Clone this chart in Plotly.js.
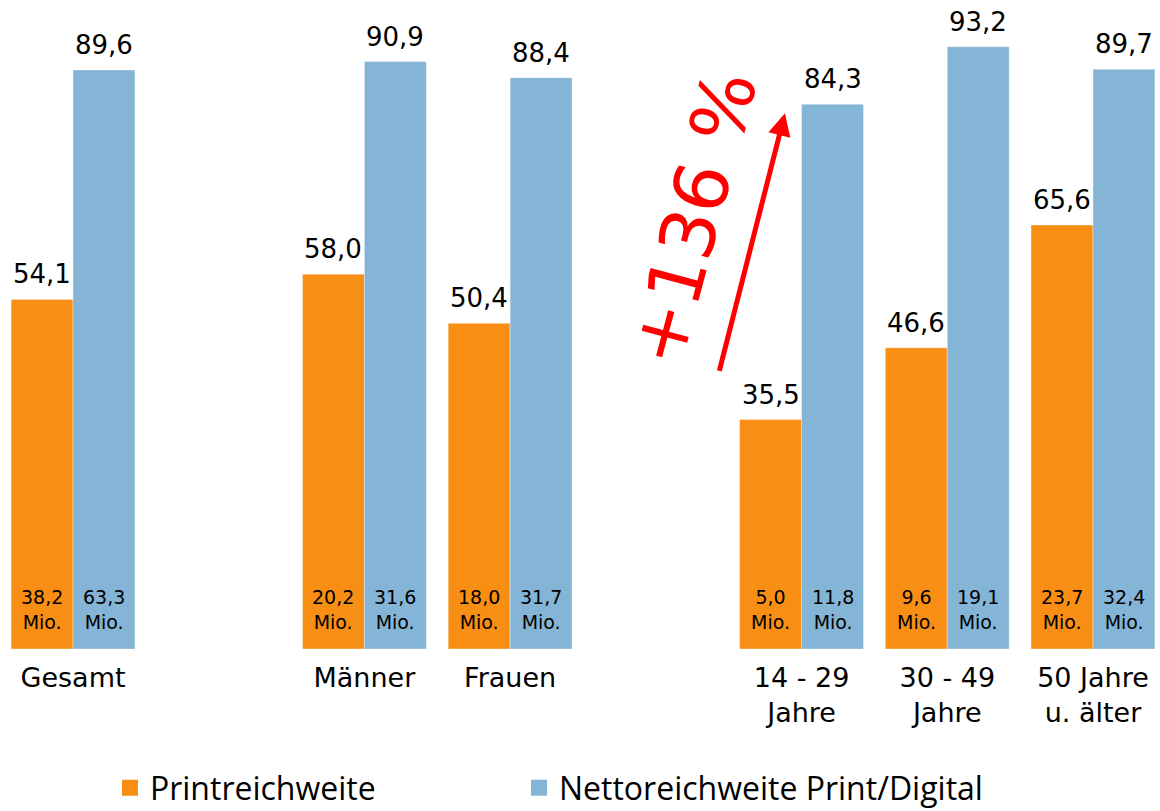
<!DOCTYPE html>
<html><head><meta charset="utf-8">
<script src="https://cdn.plot.ly/plotly-3.0.1.min.js"></script>
<style>html,body{margin:0;padding:0;background:#fff}</style>
</head><body>
<div id="chart" style="width:1160px;height:811px"></div>
<script>
const categories = ['Gesamt', ' ', 'Männer', 'Frauen', '  ', '14 - 29<br>Jahre', '30 - 49<br>Jahre', '50 Jahre<br>u. älter'];
const printReach = [54.1, null, 58.0, 50.4, null, 35.5, 46.6, 65.6];
const nettoReach = [89.6, null, 90.9, 88.4, null, 84.3, 93.2, 89.7];
const printMio = [38.2, null, 20.2, 18.0, null, 5.0, 9.6, 23.7];
const nettoMio = [63.3, null, 31.6, 31.7, null, 11.8, 19.1, 32.4];
const seriesNames = ['Printreichweite', 'Nettoreichweite Print/Digital'];
const arrowLabel = '+136 %';

const ORANGE = '#F88E14', BLUE = '#84B4D6';
const fmt = v => v.toFixed(1).replace('.', ',');
const LEG_FONT = {family:'Open Sans', size:32, color:'#000'};

const traces = [
  {type:'bar', name:seriesNames[0], x:categories, y:printReach, showlegend:false,
   marker:{color:ORANGE, line:{color:'rgba(255,255,255,0.35)', width:1}}, hoverinfo:'skip'},
  {type:'bar', name:seriesNames[1], x:categories, y:nettoReach, showlegend:false,
   marker:{color:BLUE, line:{color:'rgba(255,255,255,0.35)', width:1}}, hoverinfo:'skip'},
  // legend proxies (no visible data)
  {type:'scatter', mode:'markers', name:seriesNames[0], x:[null], y:[null], legend:'legend',
   marker:{symbol:'square', size:17, color:ORANGE}, hoverinfo:'skip'},
  {type:'scatter', mode:'markers', name:seriesNames[1], x:[null], y:[null], legend:'legend2',
   marker:{symbol:'square', size:17, color:BLUE}, hoverinfo:'skip'}
];

const annotations = [];
const series = [[printReach, printMio, -31], [nettoReach, nettoMio, 31]];
series.forEach(([vals, mios, dx]) => {
  categories.forEach((c, i) => {
    if (vals[i] == null) return;
    annotations.push({x:c, y:vals[i], xref:'x', yref:'y', text:fmt(vals[i]), showarrow:false,
      xshift:dx, yshift:25, yanchor:'middle', font:{family:'DejaVu Sans', size:26, color:'#000'}});
    annotations.push({x:c, y:0, xref:'x', yref:'y', text:fmt(mios[i]) + '<br>Mio.', showarrow:false,
      xshift:dx, yshift:14, yanchor:'bottom', font:{family:'DejaVu Sans', size:19, color:'#000'}});
  });
});
// red arrow
annotations.push({x:4.886, y:82.9, xref:'x', yref:'y', ax:-66, ay:259, axref:'pixel', ayref:'pixel', text:'',
  showarrow:true, arrowhead:2, arrowsize:0.9, arrowwidth:5, arrowcolor:'#FF0000'});
annotations.push({x:4.255, y:66.6, xref:'x', yref:'y', text:arrowLabel, showarrow:false, textangle:-75,
  font:{family:'DejaVu Sans', size:75, color:'#FF0000'}});

const layout = {
  width:1160, height:811,
  margin:{l:0, r:0, t:0, b:162, autoexpand:false},
  paper_bgcolor:'#fff', plot_bgcolor:'#fff',
  barmode:'group', bargap:0.15, bargroupgap:0,
  separators:',.',
  xaxis:{type:'category', categoryorder:'array', categoryarray:categories, range:[-0.501, 7.46],
    showgrid:false, zeroline:false, showline:false, ticks:'', tickfont:{family:'DejaVu Sans', size:27, color:'#000'}, ticklabelstandoff:10},
  yaxis:{range:[0, 100.43], visible:false, showgrid:false, zeroline:false},
  showlegend:true,
  legend:{orientation:'h', x:0.0948, y:-0.2142, xanchor:'left', yanchor:'middle', font:LEG_FONT, bgcolor:'rgba(0,0,0,0)'},
  legend2:{orientation:'h', x:0.4474, y:-0.2142, xanchor:'left', yanchor:'middle', font:LEG_FONT, bgcolor:'rgba(0,0,0,0)'},
  annotations:annotations
};
Plotly.newPlot('chart', traces, layout, {displayModeBar:false, staticPlot:true});
</script>
</body></html>
